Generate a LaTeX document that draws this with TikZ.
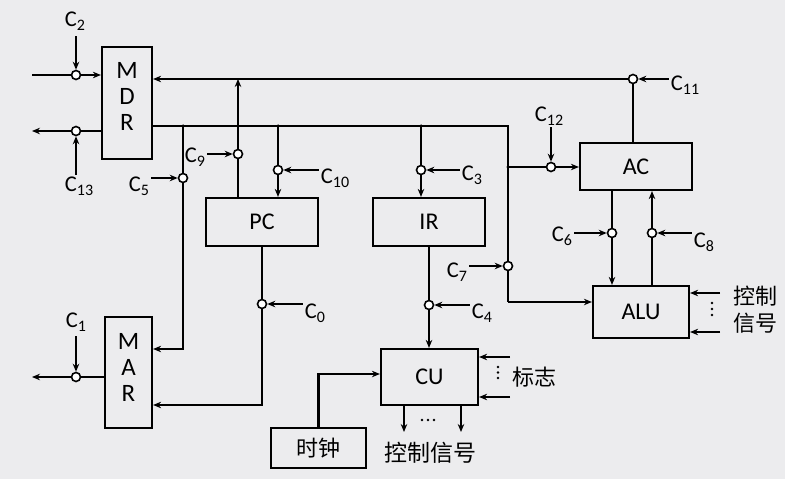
\documentclass[tikz,border=0pt]{standalone}
\usepackage{fontspec}
\setmainfont{Carlito}
\newfontfamily\cjk{Noto Sans CJK SC}
\usetikzlibrary{arrows.meta}
\definecolor{bg}{RGB}{236,236,238}
\newcommand\Cs[1]{C\raisebox{-4pt}{\fontsize{16}{16}\selectfont #1}}
\begin{document}
\begin{tikzpicture}[x=1pt,y=-1pt, line width=2.2pt,
 >={Stealth[length=8pt,width=6.5pt]},
 box/.style={draw, inner sep=0pt, fill=bg, font=\fontsize{24}{26}\selectfont},
 regtext/.style={font=\fontsize{25}{26}\selectfont, align=center, inner sep=0pt},
 gate/.style={circle, draw, fill=white, line width=1.6pt, inner sep=0pt, minimum size=9pt},
 clab/.style={font=\fontsize{22.5}{22}\selectfont, inner sep=1pt},
 cjkl/.style={font=\cjk\fontsize{22}{27}\selectfont, inner sep=0pt, align=center},
 jdot/.style={circle, fill, inner sep=0pt, minimum size=3.5pt},
 tdot/.style={circle, fill, inner sep=0pt, minimum size=2.8pt}]
\fill[bg] (0,0) rectangle (785,479);
\useasboundingbox (0,0) rectangle (785,479);

% boxes
\node[box, minimum width=50pt, minimum height=112pt] (mdr) at (127,103) {};
\node[regtext, yshift=6.5pt] (mdrt) at (mdr.center) {M\\D\\R};
\node[box, minimum width=47pt, minimum height=111pt] (mar) at (128.5,372.5) {};
\node[regtext, yshift=5.5pt] (mart) at (mar.center) {M\\A\\R};
\node[box, minimum width=112pt, minimum height=48pt] (pc) at (262,222) {PC};
\node[box, minimum width=112pt, minimum height=48pt] (ir) at (429,222) {IR};
\node[box, minimum width=112pt, minimum height=47pt] (ac) at (636,166.5) {AC};
\node[box, minimum width=96pt, minimum height=52pt] (alu) at (641,312) {ALU};
\node[box, minimum width=97pt, minimum height=56pt] (cu) at (429.5,377) {CU};
\node[box, minimum width=95pt, minimum height=40pt, font=\cjk\fontsize{22}{26}\selectfont] (clk) at (318.5,448) {时钟};

% gates
\node[gate] (c2c) at (76,75) {};
\node[gate] (c13c) at (76,131) {};
\node[gate] (c1c) at (76,377) {};
\node[gate] (c5c) at (183,178) {};
\node[gate] (c9c) at (238,154) {};
\node[gate] (c10c) at (278,170) {};
\node[gate] (c3c) at (421,170) {};
\node[gate] (c0c) at (262,304) {};
\node[gate] (c4c) at (429,305) {};
\node[gate] (c7c) at (508,266) {};
\node[gate] (c12c) at (551,167) {};
\node[gate] (c11c) at (633,79) {};
\node[gate] (c6c) at (612,233) {};
\node[gate] (c8c) at (652,233) {};

% control labels
\node[clab] (lc2) at (75,21) {\Cs{2}};
\node[clab] (lc13) at (79,186) {\Cs{13}};
\node[clab] (lc1) at (76,322) {\Cs{1}};
\node[clab] (lc5) at (139,186) {\Cs{5}};
\node[clab] (lc9) at (195,157) {\Cs{9}};
\node[clab] (lc10) at (335,178) {\Cs{10}};
\node[clab] (lc3) at (472,175) {\Cs{3}};
\node[clab] (lc11) at (685,85) {\Cs{11}};
\node[clab] (lc12) at (549,116) {\Cs{12}};
\node[clab] (lc6) at (562,236) {\Cs{6}};
\node[clab] (lc8) at (704,242) {\Cs{8}};
\node[clab] (lc7) at (457,272) {\Cs{7}};
\node[clab] (lc4) at (482,313) {\Cs{4}};
\node[clab] (lc0) at (315,313) {\Cs{0}};

\draw[->] (lc2.south -| c2c) ++(0,4) -- (c2c);
\draw[->] (lc13.north -| c13c) -- (c13c);
\draw[->] (lc1.south -| c1c) ++(0,3) -- (c1c);
\draw[->] (lc5.east |- c5c) -- (c5c);
\draw[->] (lc9.east |- c9c) -- (c9c);
\draw[->] (lc10.west |- c10c) -- (c10c);
\draw[->] (lc3.west |- c3c) -- (c3c);
\draw[->] (lc11.west |- c11c) -- (c11c);
\draw[->] (lc12.south -| c12c) -- (c12c);
\draw[->] (lc6.east |- c6c) -- (c6c);
\draw[->] (lc8.west |- c8c) -- (c8c);
\draw[->] (lc7.east |- c7c) -- (c7c);
\draw[->] (lc4.west |- c4c) -- (c4c);
\draw[->] (lc0.west |- c0c) -- (c0c);

% coordinates
\coordinate (min) at (32,75);
\coordinate (mout) at (32,131);
\coordinate (marout) at (32,377);
\coordinate (jb5) at (183,126);
\coordinate (jb10) at (278,126);
\coordinate (jb3) at (421,126);
\coordinate (bcorner) at (508,126);
\coordinate (j12) at (508,167);
\coordinate (bbot) at (508,302);
\coordinate (y349) at (0,349);
\coordinate (y405) at (0,405);
\coordinate (y374) at (0,374);
\coordinate (cuo1) at (404,432);
\coordinate (cuo2) at (461,432);
\coordinate (fl1) at (510,357);
\coordinate (fl2) at (510,397);
\coordinate (ai1) at (720,293);
\coordinate (ai2) at (720,332);

% MDR external
\draw (min) -- (c2c);
\draw[->] (c2c) -- (mdr.west |- c2c);
\draw (mdr.west |- c13c) -- (c13c);
\draw[->] (c13c) -- (mout);
% MAR external
\draw (mar.west |- c1c) -- (c1c);
\draw[->] (c1c) -- (marout);

% top bus
\draw (ac.north -| c11c) -- (c11c);
\draw[->] (c11c) -- (mdr.east |- c11c);
\draw (pc.north -| c9c) -- (c9c);
\draw[->] (c9c) -- (c9c |- c11c);

% second bus
\draw (mdr.east |- jb5) -- (bcorner) -- (j12) -- (c7c);
\draw (c7c) -- (bbot);
\draw[->] (bbot) -- (alu.west |- bbot);
\draw (jb5) -- (c5c);
\draw[->] (c5c) |- (mar.east |- y349);
\draw (jb10) -- (c10c);
\draw[->] (c10c) -- (pc.north -| c10c);
\draw (jb3) -- (c3c);
\draw[->] (c3c) -- (ir.north -| c3c);
\draw (j12) -- (c12c);
\draw[->] (c12c) -- (ac.west |- c12c);

% PC, IR outputs
\draw (pc.south) -- (c0c);
\draw[->] (c0c) |- (mar.east |- y405);
\draw (ir.south -| c4c) -- (c4c);
\draw[->] (c4c) -- (cu.north -| c4c);

% AC <-> ALU
\draw (ac.south -| c6c) -- (c6c);
\draw[->] (c6c) -- (alu.north -| c6c);
\draw (alu.north -| c8c) -- (c8c);
\draw[->] (c8c) -- (ac.south -| c8c);

% clock and CU
\draw[->] (clk.north) |- (cu.west |- y374);
\draw[->] (cu.south -| cuo1) -- (cuo1);
\draw[->] (cu.south -| cuo2) -- (cuo2);
\draw[->] (fl1) -- (cu.east |- fl1);
\draw[->] (fl2) -- (cu.east |- fl2);
\draw[->] (ai1) -- (alu.east |- ai1);
\draw[->] (ai2) -- (alu.east |- ai2);

% junction dots
\node[jdot] (d1) at (jb5) {};
\node[jdot] (d2) at (jb10) {};
\node[jdot] (d3) at (jb3) {};
\node[jdot] (d4) at (j12) {};

% ellipsis dots
\node[tdot] (e1) at (712,303) {};
\node[tdot] (e2) at (712,309) {};
\node[tdot] (e3) at (712,315) {};
\node[tdot] (f1) at (498,367) {};
\node[tdot] (f2) at (498,372.5) {};
\node[tdot] (f3) at (498,378) {};
\node[tdot] (g1) at (422,420) {};
\node[tdot] (g2) at (428,420) {};
\node[tdot] (g3) at (434,420) {};

% chinese labels
\node[cjkl] (kz1) at (755,310) {控制\\信号};
\node[cjkl] (bz) at (534,377) {标志};
\node[cjkl, font=\cjk\fontsize{23}{27}\selectfont] (kz2) at (430,453) {控制信号};
\end{tikzpicture}
\end{document}
